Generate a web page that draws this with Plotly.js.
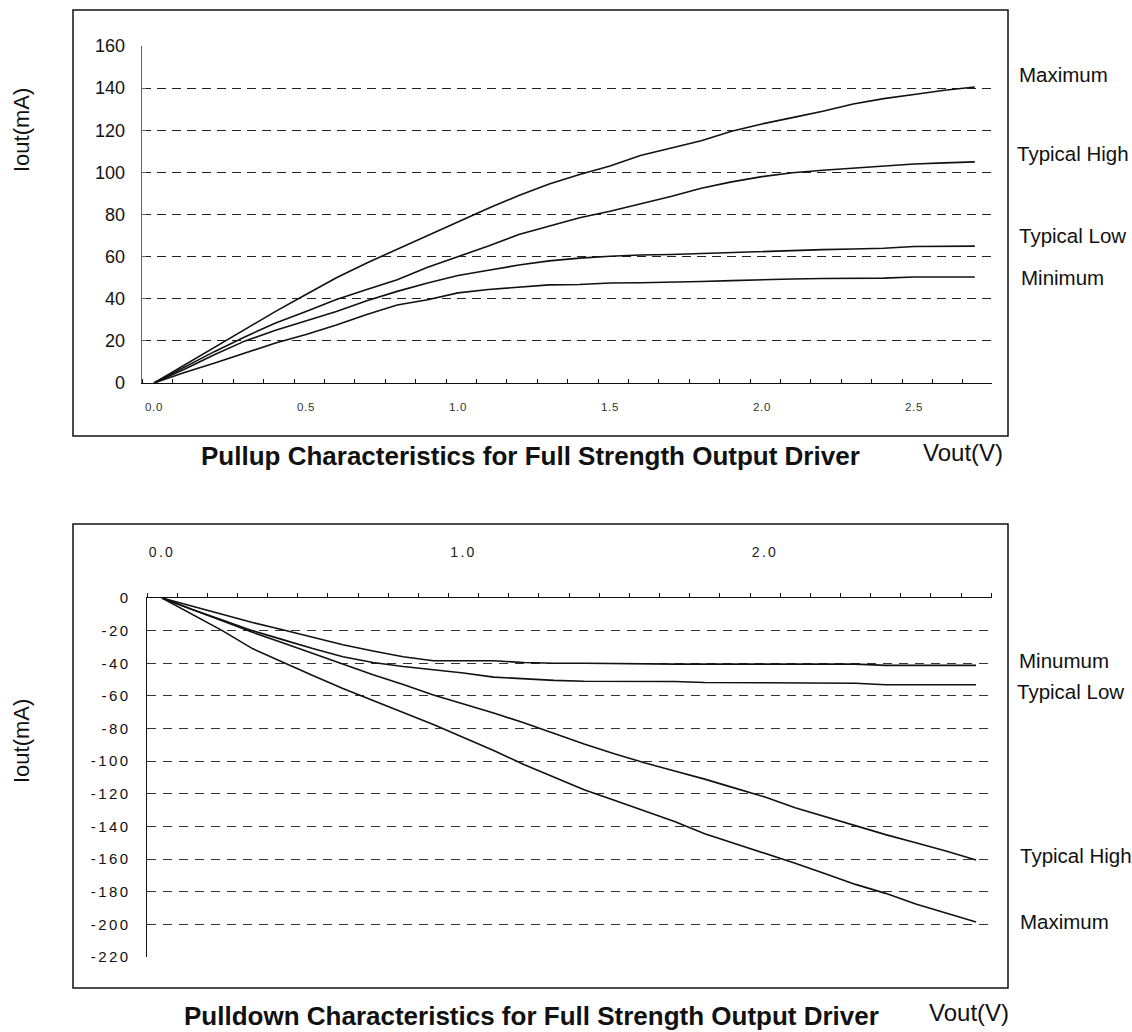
<!DOCTYPE html>
<html>
<head>
<meta charset="utf-8">
<script src="https://cdn.plot.ly/plotly-3.0.1.min.js"></script>
<style>
  html, body { margin: 0; padding: 0; background: #fff; }
  #chart { width: 1132px; height: 1032px; }
  .xtick text { letter-spacing: 0.6px; }
  .x2tick text { letter-spacing: 2.3px; }
  .y2tick text { letter-spacing: 2.5px; }
</style>
</head>
<body>
<div id="chart"></div>
<script>
// ---------------- DATA ----------------
const vout = [0.0, 0.1, 0.2, 0.3, 0.4, 0.5, 0.6, 0.7, 0.8, 0.9, 1.0, 1.1, 1.2, 1.3,
              1.4, 1.5, 1.6, 1.7, 1.8, 1.9, 2.0, 2.1, 2.2, 2.3, 2.4, 2.5, 2.6, 2.7];

// Pullup (mA)
const pullupMaximum     = [0, 8.5, 17, 25.5, 34, 42, 50, 57, 63.5, 70, 76.5, 83, 89, 94.5,
                           99, 103, 108, 111.5, 115, 119.5, 123, 126, 129, 132.5, 135, 137, 139, 140.5];
const pullupTypicalHigh = [0, 7.5, 15, 22, 28.5, 34, 39.6, 44.4, 49, 55, 60, 65, 70.5, 74.5,
                           78.5, 81.5, 85, 88.5, 92.5, 95.5, 98, 99.8, 101, 102, 103, 104, 104.5, 105];
const pullupTypicalLow  = [0, 6.5, 13.5, 20, 25, 29.5, 34, 39, 43.5, 47.5, 51, 53.5, 56, 58,
                           59.3, 60.2, 60.8, 61, 61.5, 62, 62.5, 63, 63.3, 63.6, 64, 64.8, 65, 65];
const pullupMinimum     = [0, 5, 9.5, 14.3, 19, 23, 27.5, 32.5, 37, 39.5, 42.8, 44.4, 45.6, 46.6,
                           46.8, 47.5, 47.6, 47.8, 48.2, 48.6, 49.1, 49.4, 49.6, 49.7, 49.8, 50.3, 50.3, 50.3];

// Pulldown (mA)
const pulldownMinimum     = [0, -5, -10, -15, -19.5, -24, -28.7, -32.5, -36, -38.5, -38.5, -38.5, -39.5, -40,
                             -40, -40.3, -40.5, -40.5, -40.5, -40.5, -40.5, -40.5, -40.5, -40.5, -41.3, -41.3, -41.3, -41.3];
const pulldownTypicalLow  = [0, -7, -13.5, -20, -25.5, -31, -36, -39.5, -42, -44, -46, -48.5, -49.5, -50.5,
                             -51, -51, -51, -51.2, -51.8, -51.8, -51.8, -51.8, -51.8, -52.2, -53.2, -53.2, -53.2, -53.2];
const pulldownTypicalHigh = [0, -7, -14, -21, -27.5, -34, -40.5, -47, -53, -59.5, -65, -70.5, -76.5, -83,
                             -89.5, -95.5, -101, -106, -111, -116.5, -122, -128.5, -134, -139.5, -145, -150, -155, -160.5];
const pulldownMaximum     = [0, -10, -20, -31, -39.5, -47.5, -55.5, -63, -70, -77.5, -85.5, -93.5, -102, -110,
                             -117.5, -124, -130.5, -137, -144.5, -150.5, -156.5, -162.5, -169, -175.5, -181, -187.5, -193, -198.5];

// Tick labels / text
const topXTickVals = [0, 0.5, 1.0, 1.5, 2.0, 2.5];
const topXTickText = ['0.0', '0.5', '1.0', '1.5', '2.0', '2.5'];
const botXTickVals = [0, 1.0, 2.0];
const botXTickText = ['0.0', '1.0', '2.0'];
const topYTicks = [0, 20, 40, 60, 80, 100, 120, 140, 160];
const topYTickText = ['0', '20', '40', '60', '80', '100', '120', '140', '160'];
const topYGrid  = [20, 40, 60, 80, 100, 120, 140];
const botYTicks = [-220, -200, -180, -160, -140, -120, -100, -80, -60, -40, -20, 0];
const botYTickText = ['-220', '-200', '-180', '-160', '-140', '-120', '-100', '-80', '-60', '-40', '-20', '0'];
const botYGrid  = [-200, -180, -160, -140, -120, -100, -80, -60, -40, -20];

const topSeriesLabels = ['Maximum', 'Typical High', 'Typical Low', 'Minimum'];
const botSeriesLabels = ['Minumum', 'Typical Low', 'Typical High', 'Maximum'];
const topTitle = 'Pullup Characteristics for Full Strength Output Driver';
const botTitle = 'Pulldown Characteristics for Full Strength Output Driver';
const xTitle = 'Vout(V)';
const yTitle = 'Iout(mA)';

// ---------------- LAYOUT HELPERS ----------------
const W = 1132, H = 1032;
const fx = p => p / W;
const fy = p => 1 - p / H;
const FONT = '"Liberation Sans", Arial, sans-serif';

const lineStyle = { color: '#111', width: 1.6 };
function tr(y, xa, ya) {
  return { x: vout, y: y, xaxis: xa, yaxis: ya, mode: 'lines', line: lineStyle,
           hoverinfo: 'skip', showlegend: false };
}
// invisible carrier traces so the overlaid grid axes get a subplot
function carrier(y, xa, ya) {
  return { x: vout, y: y, xaxis: xa, yaxis: ya, mode: 'lines', line: { width: 0, color: 'rgba(0,0,0,0)' },
           opacity: 0, hoverinfo: 'skip', showlegend: false };
}

const traces = [
  carrier(pullupMaximum, 'x', 'y3'),
  carrier(pulldownMaximum, 'x2', 'y4'),
  tr(pullupMaximum, 'x', 'y'),
  tr(pullupTypicalHigh, 'x', 'y'),
  tr(pullupTypicalLow, 'x', 'y'),
  tr(pullupMinimum, 'x', 'y'),
  tr(pulldownMinimum, 'x2', 'y2'),
  tr(pulldownTypicalLow, 'x2', 'y2'),
  tr(pulldownTypicalHigh, 'x2', 'y2'),
  tr(pulldownMaximum, 'x2', 'y2'),
];

// top plot geometry (pixels): x0 at 154, 304 px / V; y 0 at 383, 160 at 46
const topXRange = [(142 - 154) / 304, (992 - 154) / 304];
// bottom plot geometry: x0 at 162, 301.5 px / V; y 0 at 598, -220 at 957
const botXRange = [(147 - 162) / 301.5, (992 - 162) / 301.5];

const topLabelPos = [[1017, 74], [1015, 153], [1017, 236], [1019, 277]];
const botLabelPos = [[1017, 660], [1015, 691], [1018, 855], [1018, 921]];

const annotations = [];
topSeriesLabels.forEach((t, i) => annotations.push({
  text: t, xref: 'paper', yref: 'paper', x: fx(topLabelPos[i][0]), y: fy(topLabelPos[i][1]),
  xanchor: 'left', yanchor: 'middle', showarrow: false,
  font: { family: FONT, size: 20.5, color: '#111' }
}));
botSeriesLabels.forEach((t, i) => annotations.push({
  text: t, xref: 'paper', yref: 'paper', x: fx(botLabelPos[i][0]), y: fy(botLabelPos[i][1]),
  xanchor: 'left', yanchor: 'middle', showarrow: false,
  font: { family: FONT, size: 20.5, color: '#111' }
}));
annotations.push(
  { text: topTitle, xref: 'paper', yref: 'paper', x: fx(530), y: fy(456), xanchor: 'center', yanchor: 'middle',
    showarrow: false, font: { family: FONT, size: 26, weight: 'bold', color: '#111' } },
  { text: botTitle, xref: 'paper', yref: 'paper', x: fx(531), y: fy(1032), xanchor: 'center', yanchor: 'bottom',
    borderpad: 0, showarrow: false, font: { family: FONT, size: 26, weight: 'bold', color: '#111' } },
  { text: xTitle, xref: 'paper', yref: 'paper', x: fx(963), y: fy(452), xanchor: 'center', yanchor: 'middle',
    showarrow: false, font: { family: FONT, size: 24, color: '#111' } },
  { text: xTitle, xref: 'paper', yref: 'paper', x: fx(969), y: fy(1012), xanchor: 'center', yanchor: 'middle',
    showarrow: false, font: { family: FONT, size: 24, color: '#111' } },
  { text: yTitle, xref: 'paper', yref: 'paper', x: fx(21), y: fy(130), xanchor: 'center', yanchor: 'middle',
    textangle: -90, showarrow: false, font: { family: FONT, size: 22, color: '#111' } },
  { text: yTitle, xref: 'paper', yref: 'paper', x: fx(21), y: fy(741), xanchor: 'center', yanchor: 'middle',
    textangle: -90, showarrow: false, font: { family: FONT, size: 22, color: '#111' } }
);

const shapes = [
  { type: 'rect', xref: 'paper', yref: 'paper', x0: fx(73), x1: fx(1008), y0: fy(436), y1: fy(10),
    line: { color: '#111', width: 1.5 } },
  { type: 'rect', xref: 'paper', yref: 'paper', x0: fx(73), x1: fx(1008), y0: fy(988), y1: fy(524),
    line: { color: '#111', width: 1.5 } },
];

const noAx = { zeroline: false, showline: false };

const layout = {
  width: W, height: H,
  margin: { l: 0, r: 0, t: 0, b: 0 },
  paper_bgcolor: '#fff', plot_bgcolor: 'rgba(0,0,0,0)',
  showlegend: false,
  font: { family: FONT, color: '#111' },
  // ---- top chart ----
  xaxis: { domain: [fx(142), fx(992)], range: topXRange, anchor: 'y',
    showline: true, linecolor: '#111', linewidth: 1.3, zeroline: false, showgrid: false,
    tickmode: 'array', tickvals: topXTickVals, ticktext: topXTickText, ticks: '',
    ticklabelstandoff: 13, tickfont: { family: FONT, size: 11.5, color: '#333' },
    minor: { ticks: 'inside', tickmode: 'linear', tick0: topXRange[0], dtick: 0.1, ticklen: 4,
             tickcolor: '#111', tickwidth: 1, showgrid: false } },
  yaxis: { domain: [fy(383), fy(46)], range: [0, 160], anchor: 'x',
    showline: true, linecolor: '#666', linewidth: 1.3, zeroline: false,
    tickmode: 'array', tickvals: topYTicks, ticktext: topYTickText, ticks: 'inside', ticklen: 4, tickcolor: '#666',
    ticklabelstandoff: 12, tickfont: { family: FONT, size: 18, color: '#111' },
    showgrid: true, gridcolor: '#ececec', griddash: '9px,6px', gridwidth: 1 },
  yaxis3: Object.assign({}, noAx, { overlaying: 'y', anchor: 'x', range: [0, 160],
    tickmode: 'array', tickvals: topYGrid, ticks: '', showticklabels: false,
    showgrid: true, gridcolor: '#222', griddash: '9px,6px', gridwidth: 1 }),
  // ---- bottom chart ----
  xaxis2: { domain: [fx(147), fx(992)], range: botXRange, anchor: 'y2', side: 'top',
    showline: true, linecolor: '#111', linewidth: 1.3, zeroline: false, showgrid: false,
    tickmode: 'array', tickvals: botXTickVals, ticktext: botXTickText, ticks: '',
    ticklabelstandoff: 34, tickfont: { family: FONT, size: 14, color: '#222' },
    minor: { ticks: 'outside', tickmode: 'linear', tick0: botXRange[0], dtick: 0.1, ticklen: 4,
             tickcolor: '#111', tickwidth: 1, showgrid: false } },
  yaxis2: { domain: [fy(957), fy(598)], range: [-220, 0], anchor: 'x2',
    showline: true, linecolor: '#111', linewidth: 1.3, zeroline: false,
    tickmode: 'array', tickvals: botYTicks, ticktext: botYTickText, ticks: '',
    ticklabelstandoff: 12, tickfont: { family: FONT, size: 15, color: '#111' },
    showgrid: true, gridcolor: '#dcdcdc', griddash: '9px,7px', gridwidth: 1 },
  yaxis4: Object.assign({}, noAx, { overlaying: 'y2', anchor: 'x2', range: [-220, 0],
    tickmode: 'array', tickvals: botYGrid, ticks: '', showticklabels: false,
    showgrid: true, gridcolor: '#333', griddash: '9px,7px', gridwidth: 1 }),
  annotations: annotations,
  shapes: shapes
};

Plotly.newPlot('chart', traces, layout, { staticPlot: true, displayModeBar: false });
</script>
</body>
</html>
